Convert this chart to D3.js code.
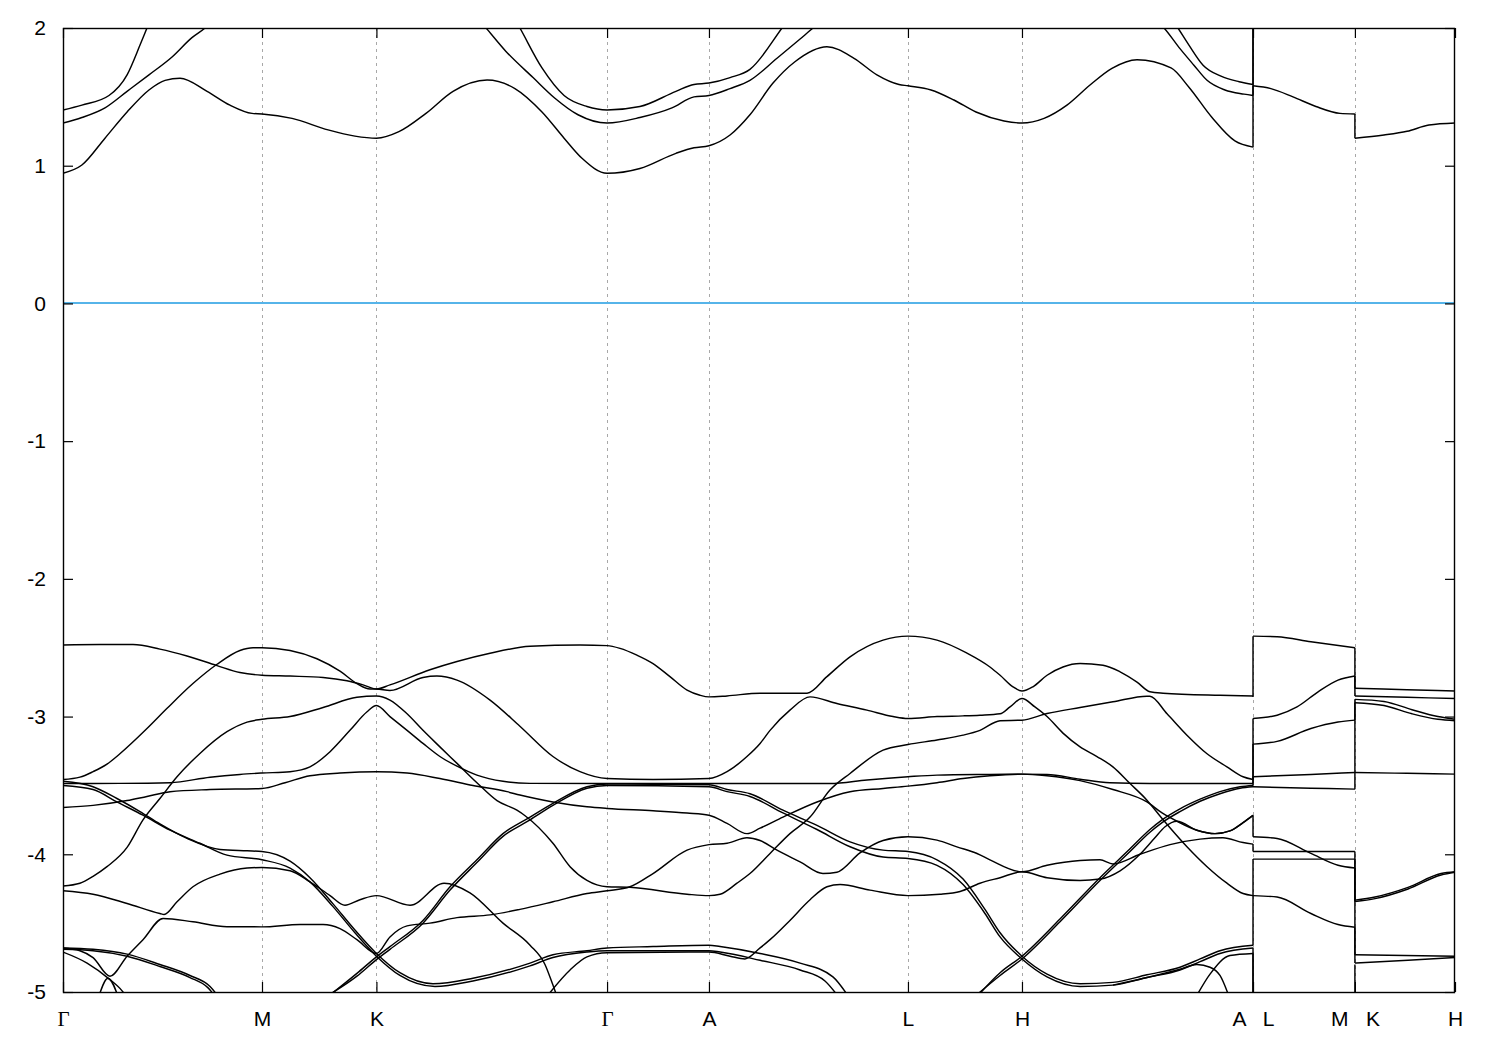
<!DOCTYPE html>
<html><head><meta charset="utf-8">
<script src="https://cdn.jsdelivr.net/npm/d3@7/dist/d3.min.js"></script>
<style>
html,body{margin:0;padding:0;background:#fff;}
</style></head>
<body>
<svg id="chart" width="1500" height="1050"></svg>
<script>
// ---------- k-path (units: |ΓM| = 1) ----------
const kTicks  = [0, 1.0, 1.575, 2.734, 3.246, 4.246, 4.819, 5.980, 6.492, 6.995];
const kLabels = ["Γ", "M", "K", "Γ", "A", "L", "H", "A   L", "M   K", "H"];
const energyTicks = [-5, -4, -3, -2, -1, 0, 1, 2];
const energyRange = [-5, 2];
const fermiLevel = 0;

// ---------- conduction bands (eV) ----------
const cb1 = [[0,0.945],[0.095,1.005],[0.211,1.20],[0.322,1.39],[0.432,1.55],[0.513,1.62],[0.588,1.635],[0.724,1.54],[0.839,1.44],[0.950,1.38],[1.0,1.376],[1.151,1.344],[1.332,1.26],[1.467,1.215],[1.575,1.20],[1.688,1.247],[1.824,1.38],[1.960,1.54],[2.131,1.622],[2.271,1.56],[2.407,1.39],[2.518,1.20],[2.608,1.054],[2.734,0.945],[2.899,0.98],[3.080,1.09],[3.171,1.13],[3.246,1.145],[3.352,1.223],[3.452,1.37],[3.568,1.60],[3.678,1.755],[3.839,1.864],[3.975,1.78],[4.090,1.66],[4.201,1.59],[4.246,1.58],[4.362,1.55],[4.477,1.477],[4.588,1.39],[4.729,1.325],[4.819,1.31],[4.930,1.344],[5.045,1.44],[5.161,1.586],[5.271,1.707],[5.397,1.77],[5.568,1.71],[5.658,1.57],[5.774,1.35],[5.889,1.18],[5.980,1.135]];
const cb2 = [[0,1.31],[0.095,1.35],[0.211,1.42],[0.322,1.54],[0.432,1.66],[0.548,1.79],[0.648,1.93],[0.714,2.0],[0.839,2.2],[1.0,2.45],[1.575,2.6],[1.945,2.3],[2.126,2.0],[2.226,1.83],[2.362,1.64],[2.472,1.49],[2.588,1.37],[2.734,1.31],[2.899,1.35],[3.060,1.42],[3.171,1.50],[3.246,1.51],[3.352,1.56],[3.452,1.62],[3.588,1.78],[3.704,1.92],[3.769,2.0],[3.955,2.2],[4.246,2.35],[4.819,2.4],[5.312,2.2],[5.533,2.0],[5.613,1.85],[5.683,1.73],[5.749,1.62],[5.839,1.55],[5.935,1.52],[5.980,1.51]];
const cb3 = [[0,1.405],[0.095,1.44],[0.231,1.51],[0.322,1.66],[0.387,1.876],[0.422,2.0],[0.538,2.4],[1.0,2.8],[1.575,2.9],[2.095,2.5],[2.296,2.0],[2.407,1.71],[2.518,1.51],[2.633,1.43],[2.734,1.405],[2.899,1.43],[3.080,1.54],[3.171,1.59],[3.246,1.60],[3.352,1.64],[3.452,1.70],[3.613,2.0],[3.804,2.4],[4.246,2.6],[4.819,2.6],[5.412,2.4],[5.603,2.0],[5.658,1.876],[5.729,1.73],[5.819,1.65],[5.910,1.61],[5.980,1.59]];
const cbLM = [[5.980,1.58],[6.070,1.56],[6.181,1.50],[6.296,1.43],[6.417,1.38],[6.492,1.376]];
const cbKH = [[6.492,1.20],[6.638,1.223],[6.754,1.25],[6.864,1.295],[6.995,1.31]];

// ---------- valence bands, path Γ-M-K-Γ-A-L-H-A (eV) ----------
const vb1 = [[0,-2.48],[0.186,-2.477],[0.352,-2.477],[0.487,-2.51],[0.623,-2.56],[0.774,-2.63],[0.889,-2.68],[1.0,-2.70],[1.141,-2.706],[1.307,-2.716],[1.427,-2.74],[1.508,-2.77],[1.575,-2.80],[1.643,-2.77],[1.844,-2.66],[1.980,-2.60],[2.146,-2.54],[2.347,-2.49],[2.598,-2.48],[2.734,-2.485],[2.799,-2.505],[2.884,-2.554],[2.965,-2.615],[3.050,-2.71],[3.136,-2.808],[3.201,-2.845],[3.246,-2.857],[3.337,-2.85],[3.503,-2.83],[3.739,-2.83],[3.839,-2.71],[3.955,-2.566],[4.121,-2.445],[4.246,-2.416],[4.392,-2.445],[4.543,-2.54],[4.658,-2.64],[4.709,-2.70],[4.774,-2.784],[4.819,-2.815],[4.874,-2.784],[4.945,-2.70],[5.025,-2.64],[5.111,-2.615],[5.226,-2.627],[5.312,-2.675],[5.397,-2.75],[5.462,-2.82],[5.528,-2.83],[5.814,-2.845],[5.980,-2.85]];
const vb2 = [[0,-3.457],[0.085,-3.44],[0.151,-3.40],[0.221,-3.345],[0.286,-3.27],[0.422,-3.087],[0.523,-2.94],[0.653,-2.76],[0.774,-2.62],[0.889,-2.52],[0.955,-2.50],[1.0,-2.50],[1.141,-2.52],[1.276,-2.58],[1.392,-2.67],[1.477,-2.76],[1.543,-2.80],[1.575,-2.80],[1.643,-2.81],[1.809,-2.716],[1.879,-2.706],[1.980,-2.735],[2.146,-2.88],[2.296,-3.07],[2.462,-3.29],[2.598,-3.40],[2.734,-3.45],[2.965,-3.457],[3.246,-3.45],[3.337,-3.40],[3.437,-3.29],[3.503,-3.195],[3.553,-3.10],[3.653,-2.953],[3.754,-2.857],[3.889,-2.905],[4.040,-2.953],[4.171,-3.0],[4.246,-3.014],[4.392,-3.0],[4.523,-2.995],[4.608,-2.99],[4.709,-2.98],[4.759,-2.93],[4.819,-2.869],[4.884,-2.93],[4.945,-3.0],[5.025,-3.12],[5.111,-3.22],[5.196,-3.29],[5.276,-3.365],[5.362,-3.486],[5.447,-3.607],[5.523,-3.74],[5.648,-3.945],[5.749,-4.09],[5.849,-4.21],[5.930,-4.285],[5.980,-4.30]];
const vb3 = [[0,-3.486],[0.286,-3.485],[0.538,-3.48],[0.739,-3.44],[0.889,-3.42],[1.0,-3.41],[1.141,-3.40],[1.241,-3.365],[1.342,-3.255],[1.442,-3.10],[1.528,-2.965],[1.575,-2.92],[1.643,-3.0],[1.729,-3.10],[1.809,-3.195],[1.894,-3.29],[1.980,-3.36],[2.080,-3.425],[2.211,-3.47],[2.347,-3.485],[2.734,-3.486],[3.246,-3.486],[3.854,-3.486],[4.040,-3.46],[4.246,-3.437],[4.392,-3.425],[4.658,-3.42],[4.819,-3.418],[4.945,-3.42],[5.111,-3.455],[5.261,-3.48],[5.462,-3.486],[5.980,-3.486]];
const vb4 = [[0,-3.66],[0.151,-3.645],[0.322,-3.61],[0.422,-3.58],[0.538,-3.546],[0.739,-3.53],[1.0,-3.522],[1.116,-3.48],[1.241,-3.43],[1.392,-3.41],[1.575,-3.40],[1.729,-3.41],[1.894,-3.45],[2.060,-3.50],[2.231,-3.545],[2.296,-3.57],[2.462,-3.62],[2.633,-3.655],[2.734,-3.667],[2.965,-3.684],[3.136,-3.70],[3.246,-3.716],[3.337,-3.776],[3.437,-3.85],[3.503,-3.81],[3.618,-3.73],[3.789,-3.62],[3.955,-3.546],[4.121,-3.522],[4.246,-3.505],[4.392,-3.48],[4.523,-3.45],[4.658,-3.43],[4.819,-3.418],[4.945,-3.43],[5.111,-3.465],[5.276,-3.53],[5.447,-3.62],[5.523,-3.70],[5.598,-3.76],[5.698,-3.825],[5.789,-3.85],[5.864,-3.83],[5.930,-3.77],[5.980,-3.717]];
const vb5 = [[0,-4.23],[0.085,-4.21],[0.151,-4.16],[0.221,-4.09],[0.322,-3.95],[0.402,-3.75],[0.487,-3.595],[0.573,-3.437],[0.688,-3.268],[0.824,-3.11],[0.925,-3.04],[1.0,-3.02],[1.141,-3.00],[1.307,-2.934],[1.477,-2.86],[1.575,-2.85],[1.643,-2.88],[1.729,-2.98],[1.809,-3.10],[1.894,-3.22],[1.980,-3.34],[2.080,-3.48],[2.181,-3.61],[2.281,-3.68],[2.322,-3.72],[2.462,-3.92],[2.548,-4.09],[2.633,-4.19],[2.734,-4.236],[2.849,-4.24],[3.136,-4.29],[3.246,-4.30],[3.302,-4.29],[3.387,-4.21],[3.452,-4.14],[3.553,-3.994],[3.653,-3.85],[3.754,-3.73],[3.854,-3.534],[3.955,-3.413],[4.121,-3.244],[4.246,-3.203],[4.392,-3.17],[4.523,-3.135],[4.608,-3.10],[4.709,-3.03],[4.819,-3.026],[4.945,-2.978],[5.111,-2.934],[5.276,-2.893],[5.447,-2.852],[5.462,-2.852],[5.548,-2.98],[5.648,-3.135],[5.749,-3.27],[5.849,-3.365],[5.930,-3.437],[5.980,-3.457]];
const vb6 = [[1.317,-5.05],[1.477,-4.865],[1.575,-4.745],[1.643,-4.67],[1.809,-4.48],[1.945,-4.236],[2.080,-4.04],[2.211,-3.85],[2.347,-3.73],[2.462,-3.63],[2.633,-3.51],[2.734,-3.49],[3.246,-3.495],[3.337,-3.53],[3.452,-3.56],[3.618,-3.68],[3.789,-3.79],[3.955,-3.91],[4.121,-3.97],[4.246,-3.98],[4.392,-4.04],[4.523,-4.18],[4.633,-4.40],[4.709,-4.57],[4.819,-4.74],[4.945,-4.87],[5.111,-4.94],[5.276,-4.93],[5.447,-4.875],[5.613,-4.82],[5.714,-4.76],[5.814,-4.70],[5.980,-4.66]];
const vb7 = [[1.302,-5.05],[1.477,-4.885],[1.575,-4.765],[1.643,-4.69],[1.809,-4.50],[1.945,-4.26],[2.080,-4.06],[2.211,-3.87],[2.347,-3.75],[2.462,-3.645],[2.633,-3.52],[2.734,-3.50],[3.246,-3.51],[3.337,-3.545],[3.452,-3.58],[3.618,-3.70],[3.789,-3.82],[3.955,-3.945],[4.121,-4.02],[4.246,-4.03],[4.392,-4.08],[4.523,-4.22],[4.633,-4.43],[4.709,-4.60],[4.819,-4.76],[4.945,-4.89],[5.111,-4.96],[5.276,-4.95],[5.447,-4.895],[5.613,-4.84],[5.714,-4.78],[5.814,-4.72],[5.980,-4.68]];
const vb8 = [[0,-3.47],[0.151,-3.51],[0.271,-3.595],[0.387,-3.69],[0.487,-3.78],[0.623,-3.885],[0.789,-3.965],[0.925,-3.975],[1.0,-3.98],[1.141,-4.05],[1.241,-4.17],[1.357,-4.36],[1.467,-4.55],[1.575,-4.72],[1.693,-4.86],[1.859,-4.94],[2.060,-4.90],[2.347,-4.79],[2.462,-4.73],[2.633,-4.70],[2.734,-4.68],[2.965,-4.67],[3.246,-4.66],[3.302,-4.67],[3.503,-4.72],[3.704,-4.79],[3.869,-4.89],[3.955,-5.05]];
const vb9 = [[0,-3.50],[0.151,-3.53],[0.271,-3.62],[0.402,-3.716],[0.538,-3.825],[0.688,-3.92],[0.824,-4.006],[1.0,-4.04],[1.141,-4.10],[1.241,-4.20],[1.357,-4.38],[1.467,-4.57],[1.575,-4.74],[1.693,-4.88],[1.869,-4.96],[2.060,-4.92],[2.347,-4.81],[2.462,-4.75],[2.633,-4.71],[2.734,-4.70],[3.246,-4.70],[3.302,-4.71],[3.503,-4.77],[3.704,-4.84],[3.829,-4.92],[3.905,-5.05]];
const vb10 = [[0,-4.265],[0.151,-4.29],[0.322,-4.357],[0.487,-4.43],[0.508,-4.437],[0.573,-4.345],[0.653,-4.236],[0.789,-4.144],[0.925,-4.10],[1.0,-4.096],[1.141,-4.12],[1.241,-4.20],[1.342,-4.30],[1.417,-4.37],[1.492,-4.33],[1.575,-4.30],[1.744,-4.37],[1.915,-4.21],[2.045,-4.28],[2.211,-4.50],[2.347,-4.66],[2.422,-4.80],[2.462,-4.95],[2.487,-5.05]];
const vb11 = [[0,-4.68],[0.085,-4.70],[0.151,-4.75],[0.236,-4.885],[0.322,-4.74],[0.402,-4.62],[0.503,-4.466],[0.653,-4.49],[0.824,-4.526],[1.0,-4.527],[1.191,-4.51],[1.307,-4.51],[1.392,-4.54],[1.477,-4.62],[1.575,-4.72],[1.643,-4.60],[1.729,-4.52],[1.844,-4.50],[1.980,-4.46],[2.146,-4.44],[2.296,-4.40],[2.462,-4.345],[2.633,-4.285],[2.734,-4.265],[2.849,-4.236],[2.965,-4.14],[3.136,-3.97],[3.246,-3.93],[3.337,-3.92],[3.437,-3.88],[3.503,-3.90],[3.588,-3.97],[3.704,-4.055],[3.819,-4.14],[3.889,-4.13],[4.005,-3.99],[4.121,-3.90],[4.246,-3.873],[4.392,-3.897],[4.492,-3.946],[4.593,-3.994],[4.658,-4.04],[4.819,-4.127],[4.945,-4.08],[5.111,-4.045],[5.211,-4.04],[5.276,-4.07],[5.412,-4.0],[5.563,-3.93],[5.714,-3.89],[5.829,-3.88],[5.930,-3.915],[5.980,-3.926]];
const vb12 = [[2.422,-5.05],[2.548,-4.84],[2.633,-4.745],[2.734,-4.715],[3.246,-4.71],[3.352,-4.74],[3.427,-4.76],[3.503,-4.68],[3.553,-4.62],[3.653,-4.48],[3.754,-4.33],[3.839,-4.236],[3.905,-4.22],[4.055,-4.26],[4.246,-4.30],[4.407,-4.29],[4.508,-4.27],[4.608,-4.21],[4.709,-4.17],[4.819,-4.127],[4.945,-4.17],[5.111,-4.19],[5.211,-4.18],[5.312,-4.12],[5.412,-4.0],[5.487,-3.88],[5.538,-3.80],[5.598,-3.76],[5.698,-3.825],[5.789,-3.85],[5.864,-3.83],[5.930,-3.77],[5.980,-3.717]];
const vb13 = [[4.583,-5.05],[4.709,-4.86],[4.819,-4.74],[5.010,-4.47],[5.211,-4.17],[5.362,-3.96],[5.462,-3.82],[5.523,-3.75],[5.613,-3.67],[5.714,-3.60],[5.814,-3.545],[5.915,-3.51],[5.980,-3.50]];
const vb14 = [[4.568,-5.05],[4.709,-4.88],[4.819,-4.76],[5.010,-4.49],[5.211,-4.19],[5.362,-3.98],[5.462,-3.84],[5.523,-3.77],[5.613,-3.69],[5.714,-3.615],[5.814,-3.56],[5.915,-3.52],[5.980,-3.51]];
const vb15 = [[0,-4.68],[0.151,-4.69],[0.322,-4.725],[0.487,-4.80],[0.638,-4.88],[0.739,-4.96],[0.789,-5.05]];
const vb16 = [[0,-4.69],[0.151,-4.70],[0.322,-4.74],[0.487,-4.815],[0.638,-4.895],[0.729,-4.97],[0.774,-5.05]];
const vb17 = [[0,-4.71],[0.121,-4.79],[0.236,-4.91],[0.296,-4.99],[0.327,-5.05]];
const vb18 = [[0.176,-5.05],[0.226,-4.90],[0.281,-5.05]];
const vb19 = [[5.688,-5.05],[5.764,-4.87],[5.864,-4.735],[5.980,-4.72]];
const vb20 = [[5.276,-4.95],[5.447,-4.895],[5.613,-4.835],[5.698,-4.80],[5.764,-4.82],[5.814,-4.88],[5.864,-5.05]];

// ---------- valence bands, L-M ----------
const lm1 = [[5.980,-2.416],[6.101,-2.42],[6.271,-2.457],[6.492,-2.50]];
const lm2 = [[5.980,-3.014],[6.101,-2.99],[6.201,-2.93],[6.307,-2.82],[6.407,-2.735],[6.492,-2.705]];
const lm3 = [[5.980,-3.20],[6.101,-3.18],[6.271,-3.087],[6.407,-3.04],[6.492,-3.026]];
const lm4 = [[5.980,-3.437],[6.271,-3.42],[6.492,-3.406]];
const lm5 = [[5.980,-3.51],[6.271,-3.52],[6.492,-3.527]];
const lm6 = [[5.980,-3.873],[6.101,-3.885],[6.271,-3.994],[6.407,-4.08],[6.492,-4.10]];
const lm7 = [[5.980,-3.98],[6.492,-3.98]];
const lm8 = [[5.980,-4.035],[6.492,-4.035]];
const lm9 = [[5.980,-4.30],[6.101,-4.31],[6.271,-4.43],[6.407,-4.51],[6.492,-4.53]];

// ---------- valence bands, K-H ----------
const kh1 = [[6.492,-2.795],[6.754,-2.805],[6.995,-2.815]];
const kh2 = [[6.492,-2.85],[6.754,-2.86],[6.995,-2.869]];
const kh3 = [[6.492,-2.875],[6.638,-2.89],[6.779,-2.95],[6.909,-3.0],[6.995,-3.02]];
const kh4 = [[6.492,-2.90],[6.638,-2.92],[6.779,-2.98],[6.909,-3.02],[6.995,-3.03]];
const kh5 = [[6.492,-3.406],[6.754,-3.412],[6.995,-3.418]];
const kh6 = [[6.492,-4.333],[6.593,-4.31],[6.759,-4.24],[6.925,-4.14],[6.995,-4.127]];
const kh7 = [[6.492,-4.343],[6.593,-4.322],[6.759,-4.252],[6.925,-4.15],[6.995,-4.13]];
const kh8 = [[6.492,-4.73],[6.995,-4.74]];
const kh9 = [[6.492,-4.79],[6.759,-4.77],[6.995,-4.75]];

// ---------- band continuity across path breaks: [E before, E after] ----------
const jumpAL = [[1.135,1.58],[1.51,2.6],[1.59,2.7],[-2.857,-2.416],[-3.457,-3.014],[-3.486,-3.20],[-3.50,-3.437],[-3.51,-3.51],[-3.717,-3.873],[-3.926,-3.98],[-4.30,-4.035],[-4.66,-4.30],[-4.68,-5.3],[-4.72,-5.4]];
const jumpMK = [[1.376,1.20],[-2.50,-2.795],[-2.705,-2.85],[-3.026,-2.875],[-3.406,-2.90],[-3.527,-3.406],[-3.98,-4.333],[-4.035,-4.343],[-4.10,-4.73],[-4.53,-4.79],[-5.3,-4.80]];

const bands = [cb1,cb2,cb3,cbLM,cbKH,vb1,vb2,vb3,vb4,vb5,vb6,vb7,vb8,vb9,vb10,vb11,vb12,vb13,vb14,vb15,vb16,vb17,vb18,vb19,vb20,
  lm1,lm2,lm3,lm4,lm5,lm6,lm7,lm8,lm9,kh1,kh2,kh3,kh4,kh5,kh6,kh7,kh8,kh9];
const breaks = [{k: kTicks[7], pairs: jumpAL}, {k: kTicks[8], pairs: jumpMK}];

// ---------- drawing ----------
const svg = d3.select("#chart");
const P = {left:63, right:1455, top:28, bottom:992};
const x = d3.scaleLinear().domain([kTicks[0], kTicks[kTicks.length-1]]).range([P.left, P.right]);
const y = d3.scaleLinear().domain(energyRange).range([P.bottom, P.top]);
const SANS = "'Liberation Sans', Arial, Helvetica, sans-serif";
const SERIF = "'Liberation Serif', 'Times New Roman', serif";

svg.append("rect").attr("width",1500).attr("height",1050).attr("fill","#fff");
svg.append("defs").append("clipPath").attr("id","clip").append("rect")
  .attr("x",P.left).attr("y",P.top).attr("width",P.right-P.left).attr("height",P.bottom-P.top);

// dashed grid at high-symmetry points
svg.append("g").selectAll("line").data(kTicks.slice(1,-1)).join("line")
  .attr("x1",d=>Math.round(x(d))+0.5).attr("x2",d=>Math.round(x(d))+0.5)
  .attr("y1",P.top).attr("y2",P.bottom)
  .attr("stroke","#a8a8a8").attr("stroke-width",1).attr("stroke-dasharray","3,4");

// Fermi level
svg.append("line").attr("x1",P.left).attr("x2",P.right)
  .attr("y1",Math.round(y(fermiLevel))).attr("y2",Math.round(y(fermiLevel)))
  .attr("stroke","#56b4e9").attr("stroke-width",1.8);

const g = svg.append("g").attr("clip-path","url(#clip)");
const line = d3.line().x(d=>x(d[0])).y(d=>y(d[1])).curve(d3.curveMonotoneX);
g.selectAll("path.band").data(bands).join("path").attr("class","band")
  .attr("d",line).attr("fill","none").attr("stroke","#000").attr("stroke-width",1.45)
  .attr("stroke-linejoin","round");

breaks.forEach(b=>{
  g.append("g").selectAll("line").data(b.pairs).join("line")
    .attr("x1",x(b.k)).attr("x2",x(b.k))
    .attr("y1",d=>y(d[0])).attr("y2",d=>y(d[1]))
    .attr("stroke","#000").attr("stroke-width",1.45);
});

// axes (inward ticks on all four sides)
function styleAxis(sel){
  sel.select(".domain").remove();
  sel.selectAll(".tick line").attr("stroke","#000").attr("stroke-width",1.2);
  sel.selectAll(".tick text").attr("fill","#000").style("font-size","21px").style("font-family",SANS);
}
svg.append("g").attr("transform",`translate(${P.left},0)`)
  .call(d3.axisLeft(y).tickValues(energyTicks).tickSize(-10).tickSizeOuter(0).tickPadding(17).tickFormat(d=>String(d)))
  .call(styleAxis);
svg.append("g").attr("transform",`translate(${P.right},0)`)
  .call(d3.axisRight(y).tickValues(energyTicks).tickSize(-10).tickSizeOuter(0).tickFormat(""))
  .call(styleAxis);
svg.append("g").attr("transform",`translate(0,${P.bottom})`)
  .call(d3.axisBottom(x).tickValues(kTicks).tickSize(-10).tickSizeOuter(0).tickPadding(19).tickFormat((d,i)=>kLabels[i]))
  .call(styleAxis)
  .call(s=>s.selectAll(".tick text").style("white-space","pre")
     .style("font-family",(d,i)=>kLabels[i]==="Γ" ? SERIF : SANS));
svg.append("g").attr("transform",`translate(0,${P.top})`)
  .call(d3.axisTop(x).tickValues(kTicks).tickSize(-10).tickSizeOuter(0).tickFormat(""))
  .call(styleAxis);

// border
svg.append("rect").attr("x",P.left+0.5).attr("y",P.top+0.5)
  .attr("width",P.right-P.left-1).attr("height",P.bottom-P.top)
  .attr("fill","none").attr("stroke","#000").attr("stroke-width",1.4);
</script>
</body></html>
